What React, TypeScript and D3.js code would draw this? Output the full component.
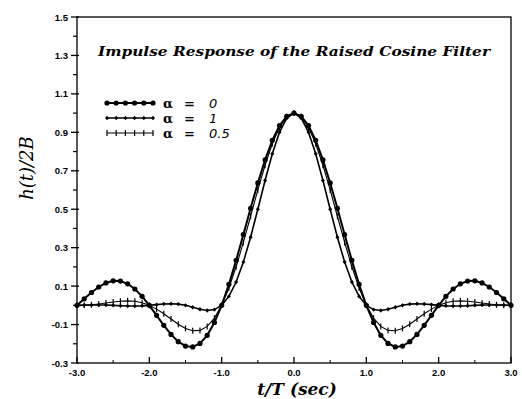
import React from "react";
import * as d3 from "d3";

const tValues = [
  -3.0, -2.9, -2.8, -2.7, -2.6, -2.5, -2.4, -2.3, -2.2, -2.1,
  -2.0, -1.9, -1.8, -1.7, -1.6, -1.5, -1.4, -1.3, -1.2, -1.1,
  -1.0, -0.9, -0.8, -0.7, -0.6, -0.5, -0.4, -0.3, -0.2, -0.1,
  0.0,
  0.1, 0.2, 0.3, 0.4, 0.5, 0.6, 0.7, 0.8, 0.9, 1.0,
  1.1, 1.2, 1.3, 1.4, 1.5, 1.6, 1.7, 1.8, 1.9, 2.0,
  2.1, 2.2, 2.3, 2.4, 2.5, 2.6, 2.7, 2.8, 2.9, 3.0,
];

const alpha0 = [
  0, 0.0339, 0.0668, 0.0954, 0.1164, 0.1273, 0.1261, 0.112, 0.085, 0.0468,
  0, -0.0518, -0.1039, -0.1515, -0.1892, -0.2122, -0.2162, -0.1981, -0.1559, -0.0894,
  0, 0.1093, 0.2339, 0.3679, 0.5046, 0.6366, 0.7568, 0.8584, 0.9355, 0.9836,
  1,
  0.9836, 0.9355, 0.8584, 0.7568, 0.6366, 0.5046, 0.3679, 0.2339, 0.1093, 0,
  -0.0894, -0.1559, -0.1981, -0.2162, -0.2122, -0.1892, -0.1515, -0.1039, -0.0518, 0,
  0.0468, 0.085, 0.112, 0.1261, 0.1273, 0.1164, 0.0954, 0.0668, 0.0339, 0,
];

const alpha1 = [
  0, 0.001, 0.0018, 0.002, 0.0014, 0, -0.0018, -0.0033, -0.0037, -0.0027,
  0, 0.0037, 0.007, 0.0084, 0.0063, 0, -0.0098, -0.0202, -0.0265, -0.0221,
  0, 0.0464, 0.1213, 0.2253, 0.3544, 0.5, 0.6496, 0.7884, 0.901, 0.9744,
  1,
  0.9744, 0.901, 0.7884, 0.6496, 0.5, 0.3544, 0.2253, 0.1213, 0.0464, 0,
  -0.0221, -0.0265, -0.0202, -0.0098, 0, 0.0063, 0.0084, 0.007, 0.0037, 0,
  -0.0027, -0.0037, -0.0033, -0.0018, 0, 0.0014, 0.002, 0.0018, 0.001, 0,
];

const alpha05 = [
  0, 0.0007, 0.003, 0.0069, 0.0119, 0.0171, 0.0214, 0.0233, 0.0211, 0.0136,
  0, -0.0196, -0.0441, -0.0714, -0.0981, -0.12, -0.1324, -0.1303, -0.1095, -0.0666,
  0, 0.09, 0.2008, 0.3275, 0.4634, 0.6002, 0.7289, 0.8405, 0.9268, 0.9813,
  1,
  0.9813, 0.9268, 0.8405, 0.7289, 0.6002, 0.4634, 0.3275, 0.2008, 0.09, 0,
  -0.0666, -0.1095, -0.1303, -0.1324, -0.12, -0.0981, -0.0714, -0.0441, -0.0196, 0,
  0.0136, 0.0211, 0.0233, 0.0214, 0.0171, 0.0119, 0.0069, 0.003, 0.0007, 0,
];

const yTickLabels = ["1.5", "1.3", "1.1", "0.9", "0.7", "0.5", "0.3", "0.1", "-0.1", "-0.3"];
const xTickLabels = ["-3.0", "-2.0", "-1.0", "0.0", "1.0", "2.0", "3.0"];
const legendLabels = ["0", "1", "0.5"];
const titleText = "Impulse Response of the Raised Cosine Filter";

const W = 522;
const H = 399;
const x = d3.scaleLinear().domain([-3, 3]).range([77, 511]);
const y = d3.scaleLinear().domain([-0.3, 1.5]).range([363, 17]);

type Series = { values: number[]; marker: "bigdot" | "smalldot" | "tick"; width: number };
const series: Series[] = [
  { values: alpha0, marker: "bigdot", width: 2 },
  { values: alpha1, marker: "smalldot", width: 1.6 },
  { values: alpha05, marker: "tick", width: 1.1 },
];

function Marker({ cx, cy, kind }: { cx: number; cy: number; kind: string }) {
  if (kind === "bigdot") return <circle cx={cx} cy={cy} r={2.6} fill="#000" />;
  if (kind === "smalldot")
    return (
      <path
        d={`M${cx},${cy - 2.2}L${cx + 2},${cy}L${cx},${cy + 2.2}L${cx - 2},${cy}Z`}
        fill="#000"
      />
    );
  return <line x1={cx} x2={cx} y1={cy - 3} y2={cy + 3} stroke="#000" strokeWidth={1.2} />;
}

export default function App() {
  const line = d3
    .line<number>()
    .x((_, i) => x(tValues[i]))
    .y((v) => y(v));

  const yMajor = yTickLabels.map((s) => parseFloat(s));
  const yMinor = d3.range(-0.2, 1.5, 0.2).map((v) => Math.round(v * 10) / 10);
  const xMajor = xTickLabels.map((s) => parseFloat(s));
  const xMinor = [-2.5, -1.5, -0.5, 0.5, 1.5, 2.5];

  const legendY = [103, 118, 133];
  const legendX0 = 107;
  const legendX1 = 153;

  return (
    <svg
      width={W}
      height={H}
      style={{ position: "absolute", left: 0, top: 0, background: "#fff" }}
      fontFamily="'Liberation Sans', Arial, sans-serif"
    >
      <rect x={0} y={0} width={W} height={H} fill="#fff" />
      {/* frame */}
      <rect
        x={x(-3)}
        y={y(1.5)}
        width={x(3) - x(-3)}
        height={y(-0.3) - y(1.5)}
        fill="none"
        stroke="#000"
        strokeWidth={1.3}
      />
      {/* y ticks */}
      {yMajor.map((v, i) => (
        <g key={"ym" + i}>
          <line x1={x(-3) - 6} x2={x(-3) + 2} y1={y(v)} y2={y(v)} stroke="#000" strokeWidth={1.3} />
          <text
            x={x(-3) - 9}
            y={y(v) + 3.5}
            textAnchor="end"
            fontSize={9.5}
            fontWeight="bold"
          >
            {yTickLabels[i]}
          </text>
        </g>
      ))}
      {yMinor.map((v, i) => (
        <line key={"yn" + i} x1={x(-3) - 4} x2={x(-3)} y1={y(v)} y2={y(v)} stroke="#000" strokeWidth={1.2} />
      ))}
      {/* x ticks */}
      {xMajor.map((v, i) => (
        <g key={"xm" + i}>
          <line x1={x(v)} x2={x(v)} y1={y(-0.3)} y2={y(-0.3) - 6} stroke="#000" strokeWidth={1.3} />
          <text x={x(v)} y={y(-0.3) + 13} textAnchor="middle" fontSize={9.5} fontWeight="bold">
            {xTickLabels[i]}
          </text>
        </g>
      ))}
      {xMinor.map((v, i) => (
        <line key={"xn" + i} x1={x(v)} x2={x(v)} y1={y(-0.3)} y2={y(-0.3) - 3} stroke="#000" strokeWidth={1} />
      ))}
      {/* title */}
      <text
        x={98}
        y={56}
        fontFamily="'DejaVu Serif', serif"
        fontStyle="italic"
        fontWeight="bold"
        fontSize={12.5}
        textLength={392}
        lengthAdjust="spacingAndGlyphs"
      >
        {titleText}
      </text>
      {/* series */}
      {series.map((s, si) => (
        <g key={"s" + si}>
          <path d={line(s.values) || ""} fill="none" stroke="#000" strokeWidth={s.width} />
          {s.values.map((v, i) => (
            <Marker key={i} cx={x(tValues[i])} cy={y(v)} kind={s.marker} />
          ))}
        </g>
      ))}
      {/* legend */}
      {series.map((s, si) => {
        const pts = d3.range(6).map((k) => legendX0 + ((legendX1 - legendX0) * k) / 5);
        return (
          <g key={"l" + si}>
            <line x1={legendX0} x2={legendX1} y1={legendY[si]} y2={legendY[si]} stroke="#000" strokeWidth={s.width} />
            {pts.map((px, k) => (
              <Marker key={k} cx={px} cy={legendY[si]} kind={s.marker} />
            ))}
            <text x={163} y={legendY[si] + 4.5} fontSize={13} fontWeight="bold" fontFamily="'DejaVu Serif', serif">
              α
            </text>
            <text x={184} y={legendY[si] + 4.5} fontSize={13} fontWeight="bold" fontFamily="'DejaVu Sans', sans-serif">
              =
            </text>
            <text
              x={209}
              y={legendY[si] + 4.5}
              fontSize={13}
              fontStyle="italic"
              fontFamily="'DejaVu Sans', sans-serif"
            >
              {legendLabels[si]}
            </text>
          </g>
        );
      })}
      {/* axis labels */}
      <text
        transform={`translate(33,168) rotate(-90)`}
        textAnchor="middle"
        fontSize={18}
        fontStyle="italic"
        fontFamily="'DejaVu Serif', serif"
      >
        h(t)/2B
      </text>
      <text
        x={297}
        y={395}
        textAnchor="middle"
        fontSize={17}
        fontStyle="italic"
        fontWeight="bold"
        fontFamily="'DejaVu Serif', serif"
      >
        t/T (sec)
      </text>
    </svg>
  );
}
